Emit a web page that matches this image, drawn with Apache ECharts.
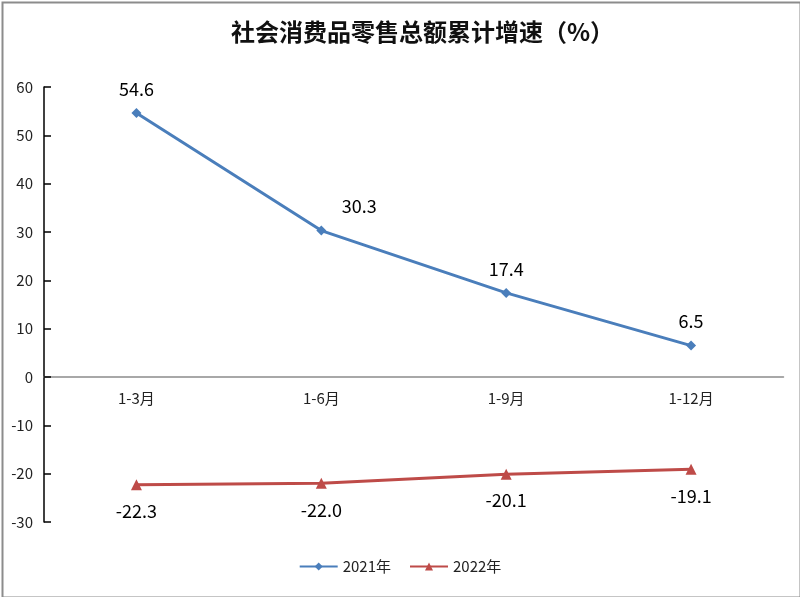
<!DOCTYPE html>
<html><head><meta charset="utf-8">
<script src="https://cdn.jsdelivr.net/npm/echarts@6/dist/echarts.min.js"></script>
<style>html,body{margin:0;padding:0;background:#fff}#c{width:800px;height:597px}</style>
</head><body><div id="c"></div>
<script>
const categories = ['1-3月', '1-6月', '1-9月', '1-12月'];
const values2021 = [54.6, 30.3, 17.4, 6.5];
const values2022 = [-22.3, -22.0, -20.1, -19.1];
const yTicks = [-30, -20, -10, 0, 10, 20, 30, 40, 50, 60];
const seriesNames = ['2021年', '2022年'];

const font = '"Noto Sans CJK SC", "Noto Sans", sans-serif';
const gridTop = 87, gridBottom = 75, chartH = 597;
const plotH = chartH - gridTop - gridBottom;
const yMin = yTicks[0], yMax = yTicks[yTicks.length - 1];
const zeroOffset = -plotH * (0 - yMin) / (yMax - yMin);

const chart = echarts.init(document.getElementById('c'), null, {renderer: 'canvas'});
chart.setOption({
  animation: false,
  backgroundColor: '#fff',
  title: {
    text: '社会消费品零售总额累计增速（%）',
    left: 226, top: 15,
    textStyle: {fontFamily: font, fontSize: 24, fontWeight: 'bold', color: '#111'}
  },
  graphic: [{
    type: 'rect', left: 0, top: 0, z: 100,
    shape: {x: 1, y: 1, width: 798, height: 595},
    style: {fill: 'none', stroke: '#8c8c8c', lineWidth: 2}
  }],
  legend: {
    bottom: 18, left: 'center',
    itemWidth: 38, itemHeight: 10, itemGap: 18,
    textStyle: {fontFamily: font, fontSize: 15, color: '#222'},
    data: seriesNames
  },
  grid: {left: 44, right: 16.5, top: gridTop, bottom: gridBottom, containLabel: false},
  xAxis: {
    type: 'category', data: categories, boundaryGap: true,
    offset: zeroOffset,
    axisLine: {onZero: false, lineStyle: {color: '#8c8c8c', width: 1.5}},
    axisTick: {show: false},
    axisLabel: {fontFamily: font, fontSize: 15, color: '#222', margin: 14}
  },
  yAxis: {
    type: 'value', min: yMin, max: yMax, interval: 10,
    axisLine: {show: true, onZero: false, lineStyle: {color: '#000', width: 1.5}},
    axisTick: {show: true, inside: true, length: 7, lineStyle: {color: '#000', width: 1.5}},
    splitLine: {show: false},
    axisLabel: {fontFamily: font, fontSize: 15, color: '#222', margin: 11}
  },
  series: [{
    name: seriesNames[0], type: 'line', data: values2021.map((v, i) => ({
      value: v,
      label: i === 1 ? {offset: [38, 0]} : {}
    })),
    symbol: 'diamond', symbolSize: 10,
    lineStyle: {color: '#4a7ebb', width: 3},
    itemStyle: {color: '#4a7ebb'},
    label: {show: true, position: 'top', distance: 10, fontFamily: font, fontSize: 18, color: '#000',
      formatter: p => p.value.toFixed(1)}
  }, {
    name: seriesNames[1], type: 'line', data: values2022,
    symbol: 'triangle', symbolSize: 11,
    lineStyle: {color: '#be4b48', width: 3},
    itemStyle: {color: '#be4b48'},
    label: {show: true, position: 'bottom', distance: 12, fontFamily: font, fontSize: 18, color: '#000',
      formatter: p => p.value.toFixed(1)}
  }]
});
</script></body></html>
